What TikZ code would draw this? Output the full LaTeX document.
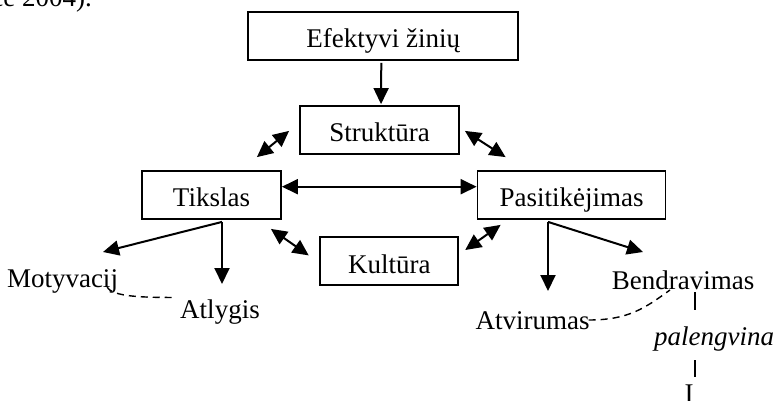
\documentclass[tikz,border=0pt]{standalone}
\usepackage{fontspec}
\setmainfont{Liberation Serif}
\usetikzlibrary{arrows.meta}
\usetikzlibrary{positioning}
\usetikzlibrary{calc}

\tikzset{
  box/.style={draw, line width=1.8pt, inner sep=0pt, text height=25pt, text depth=1pt},
  lbl/.style={inner sep=0pt, anchor=base},
  link/.style={line width=2pt},
  dsh/.style={line width=1.4pt, dash pattern=on 7pt off 5pt},
}

\begin{document}
\begin{tikzpicture}[x=1pt, y=-1pt, font=\fontsize{27pt}{32pt}\selectfont, >={Triangle[length=16pt,width=15pt]}]
 \useasboundingbox (0,0) rectangle (774,401);

 \node[lbl, anchor=base east] (Src) at (92,7) {ce 2004).};

 %boxes
 \foreach \x/\y/\w/\name/\txt in {383.3/36/270/Ef/Efektyvi žinių, 379.5/130/159/St/Struktūra, 211.5/195/139/Ti/Tikslas, 571.5/195/188/Pa/Pasitikėjimas, 389.3/261/138/Ku/Kultūra} {
   \node[box, minimum width=\w pt, minimum height=48pt] (\name) at (\x,\y) {\txt};
 }

 %level 2
 \node[lbl] (Mo) at (62.5,287) {Motyvacij};
 \node[lbl] (At) at (220,318) {Atlygis};
 \node[lbl] (Av) at (532.5,329) {Atvirumas};
 \node[lbl] (Be) at (683,289) {Bendravimas};
 \node[lbl] (Pl) at (714,345) {\textit{palengvina}};
 \node[lbl] (I) at (689,402) {I};

 %arrows
 \draw[link, ->] ($(Ef.south)+(-2,2)$) -- ($(St.north)+(1.5,-1)$);
 \draw[link, <->] ($(Ti.north east)+(-25,-13)$) -- ($(St.south west)+(-10,-24)$);
 \draw[link, <->] ($(St.south east)+(5,-24)$) -- ($(Pa.north west)+(29,-13)$);
 \draw[link, <->] ([yshift=8.3pt]Ti.east) -- ([yshift=8.3pt]Pa.west);
 \draw[link, <->] ($(Ti.south east)+(-11,9)$) -- ($(Ku.north west)+(-10.7,19.3)$);
 \draw[link, <->] ($(Ku.east)+(6,-11)$) -- ($(Pa.south west)+(24,5)$);

 \draw[link, ->] ($(Ti.south)+(10.5,2)$) -- ($(Mo.base)+(40.5,-35)$);
 \draw[link, ->] ($(Ti.south)+(10.5,2)$) -- ($(At.base)+(2,-34)$);
 \draw[link, ->] ($(Pa.south)+(-23.5,2)$) -- ($(Av.base)+(15.5,-38)$);
 \draw[link, ->] ($(Pa.south)+(-23.5,2)$) -- ($(Be.base)+(-40,-37)$);

 %dashed links
 \draw[dsh] ($(Mo.base east)+(-11,0)$) .. controls +(5,10) and +(-30,0) .. ($(At.north west)+(-5.5,-1.6)$);
 \draw[dsh] ($(Av.base east)+(-1,-9)$) .. controls +(40,0) and +(-25,18) .. ($(Be.base)+(-13,1)$);

 \draw[line width=1.5pt] ($(Be.base)+(12,3)$) -- ($(Pl.base)+(-19,-35)$);
 \draw[line width=1.5pt] ($(Pl.base)+(-19,15)$) -- ($(I.base)+(6,-25)$);

\end{tikzpicture}
\end{document}
